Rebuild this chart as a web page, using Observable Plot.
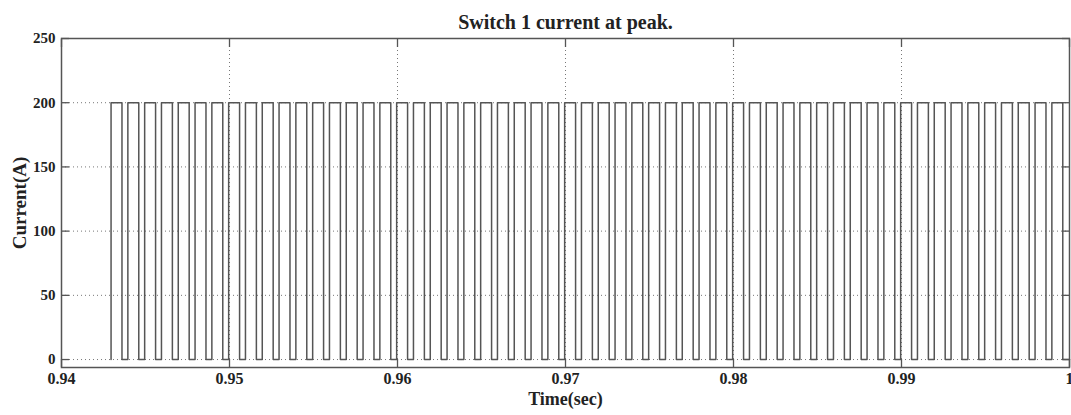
<!DOCTYPE html>
<html><head><meta charset="utf-8">
<script src="https://cdn.jsdelivr.net/npm/d3@7"></script>
<script src="https://cdn.jsdelivr.net/npm/@observablehq/plot@0.6"></script>
<style>body{margin:0;background:#fff;} #chart svg{display:block;}</style>
</head><body><div id="chart"></div>
<script>
const titleText = "Switch 1 current at peak.";
const xLabel = "Time(sec)";
const yLabel = "Current(A)";
const xTicks = [0.94, 0.95, 0.96, 0.97, 0.98, 0.99, 1];
const xTickLabels = ["0.94", "0.95", "0.96", "0.97", "0.98", "0.99", "1"];
const yTicks = [0, 50, 100, 150, 200, 250];
const peakCurrent = 200;
const riseTimes = [0.94295,0.94395,0.94495,0.94595,0.94695,0.94795,0.94895,0.94995,0.95095,0.95195,
0.95295,0.95395,0.95495,0.95595,0.95695,0.95795,0.95895,0.95995,0.96095,0.96195,
0.96295,0.96395,0.96495,0.96595,0.96695,0.96795,0.96895,0.96995,0.97095,0.97195,
0.97295,0.97395,0.97495,0.97595,0.97695,0.97795,0.97895,0.97995,0.98095,0.98195,
0.98295,0.98395,0.98495,0.98595,0.98695,0.98795,0.98895,0.98995,0.99095,0.99195,
0.99295,0.99395,0.99495,0.99595,0.99695,0.99795,0.99895];
const fallTimes = [0.94360,0.94460,0.94560,0.94660,0.94760,0.94860,0.94960,0.95060,0.95160,0.95260,
0.95360,0.95460,0.95560,0.95660,0.95760,0.95860,0.95960,0.96060,0.96160,0.96260,
0.96360,0.96460,0.96560,0.96660,0.96760,0.96860,0.96960,0.97060,0.97160,0.97260,
0.97360,0.97460,0.97560,0.97660,0.97760,0.97860,0.97960,0.98060,0.98160,0.98260,
0.98360,0.98460,0.98560,0.98660,0.98760,0.98860,0.98960,0.99060,0.99160,0.99260,
0.99360,0.99460,0.99560,0.99660,0.99760,0.99860,0.99960];

const pts = [];
riseTimes.forEach((r, i) => {
  pts.push({t: r, a: 0}, {t: r, a: peakCurrent}, {t: fallTimes[i], a: peakCurrent}, {t: fallTimes[i], a: 0});
});
pts.push({t: 1, a: 0});

const font = "'Liberation Serif', 'DejaVu Serif', serif";
const tickStroke = "#555";
const textFill = "#222";
const plot = Plot.plot({
  width: 1071, height: 415,
  marginLeft: 61, marginRight: 2, marginTop: 38, marginBottom: 48,
  style: {fontFamily: font, fontSize: "15px", fontWeight: "bold", color: "#222", background: "#fff"},
  x: {domain: [0.94, 1]},
  y: {domain: [-6.2, 250]},
  marks: [
    Plot.gridX(xTicks, {stroke: "#777", strokeOpacity: 1, strokeDasharray: "1,3"}),
    Plot.gridY(yTicks, {stroke: "#777", strokeOpacity: 1, strokeDasharray: "1,3"}),
    Plot.line(pts, {x: "t", y: "a", stroke: "#555", strokeWidth: 1.5, curve: "linear"}),
    Plot.axisX(xTicks, {anchor: "bottom", tickSize: -8, stroke: tickStroke, strokeWidth: 1.3, tickFormat: () => "", label: null}),
    Plot.axisX(xTicks, {anchor: "top", tickSize: -8, stroke: tickStroke, strokeWidth: 1.3, tickFormat: () => "", label: null}),
    Plot.axisY(yTicks, {anchor: "left", tickSize: -8, stroke: tickStroke, strokeWidth: 1.3, tickFormat: () => "", label: null}),
    Plot.axisY(yTicks, {anchor: "right", tickSize: -8, stroke: tickStroke, strokeWidth: 1.3, tickFormat: () => "", label: null}),
    Plot.frame({stroke: "#555", strokeWidth: 1.5}),
    Plot.text(xTicks, {x: d => d, text: (d, i) => xTickLabels[i], frameAnchor: "bottom", dy: 16, fontSize: 16, fontWeight: "bold", fill: textFill}),
    Plot.text(yTicks, {y: d => d, text: d => String(d), frameAnchor: "left", textAnchor: "end", dx: -6, fontSize: 15, fontWeight: "bold", fill: textFill}),
    Plot.text([titleText], {frameAnchor: "top", dy: -24, fontSize: 20, fontWeight: "bold", fill: textFill}),
    Plot.text([xLabel], {frameAnchor: "bottom", dy: 37, fontSize: 18, fontWeight: "bold", fill: textFill}),
    Plot.text([yLabel], {frameAnchor: "left", textAnchor: "middle", dx: -42, rotate: -90, fontSize: 19, fontWeight: "bold", fill: textFill})
  ]
});
document.getElementById("chart").append(plot);
</script></body></html>
